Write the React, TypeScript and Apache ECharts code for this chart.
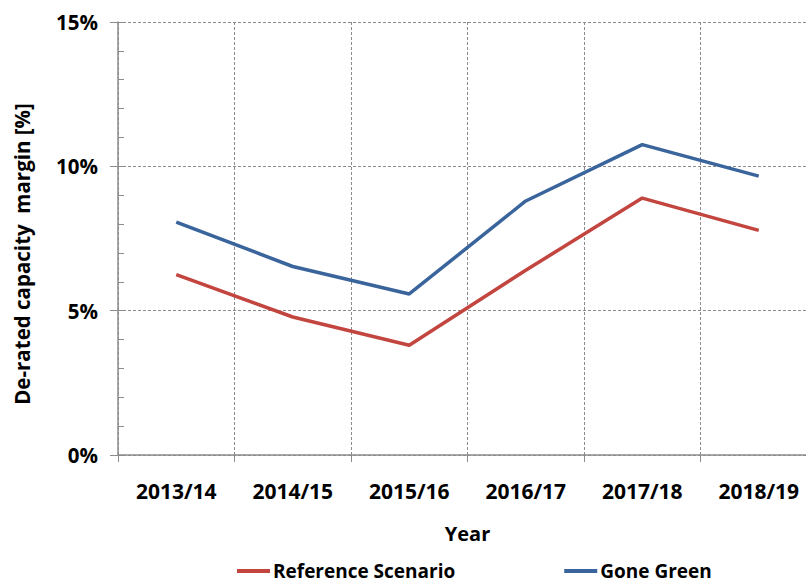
import React, { useEffect, useRef } from "react";
import * as echarts from "echarts";

// Financial years on the category axis
const years = ["2013/14", "2014/15", "2015/16", "2016/17", "2017/18", "2018/19"];

// De-rated capacity margin, in percent
const referenceScenario = [6.25, 4.78, 3.8, 6.4, 8.9, 7.78];
const goneGreen = [8.07, 6.53, 5.58, 8.8, 10.75, 9.66];

const yTicks = [0, 5, 10, 15];

const FONT = "'Open Sans', 'Liberation Sans', sans-serif";
const RED = "#C3453F";
const BLUE = "#3A649C";
const AXIS_GREY = "#8C8C8C";
const GRID_GREY = "#8A8A8A";

export default function App() {
  const ref = useRef<HTMLDivElement>(null);

  useEffect(() => {
    document.body.style.margin = "0";
    if (!ref.current) return;
    const chart = echarts.init(ref.current, null, { renderer: "svg" });
    const yMin = yTicks[0];
    const yMax = yTicks[yTicks.length - 1];

    chart.setOption({
      animation: false,
      backgroundColor: "#ffffff",
      textStyle: { fontFamily: FONT },
      // the plot runs past the right edge of the visible frame
      grid: { left: 118, top: 22, width: 699, height: 433, containLabel: false },
      legend: {
        left: 237,
        top: 561,
        padding: 0,
        icon: "rect",
        itemWidth: 33,
        itemHeight: 4,
        itemGap: 109,
        itemStyle: { borderWidth: 0 },
        textStyle: {
          fontFamily: FONT,
          fontWeight: "bold",
          fontSize: 19,
          lineHeight: 20,
          color: "#000",
          padding: [0, 0, 0, -2],
        },
        data: ["Reference Scenario", "Gone Green"],
      },
      xAxis: {
        type: "category",
        data: years,
        boundaryGap: true,
        axisLine: { lineStyle: { color: AXIS_GREY, width: 1.5 } },
        axisTick: { show: true, alignWithLabel: false, length: 7, lineStyle: { color: AXIS_GREY, width: 1 } },
        axisLabel: { margin: 25, fontFamily: FONT, fontWeight: "bold", fontSize: 21, color: "#000", interval: 0 },
        splitLine: { show: true, lineStyle: { color: GRID_GREY, type: [3, 2], width: 1 } },
        name: "Year",
        nameLocation: "middle",
        nameGap: 68,
        nameTextStyle: { fontFamily: FONT, fontWeight: "bold", fontSize: 20, color: "#000" },
      },
      yAxis: [
        {
          type: "value",
          min: yMin,
          max: yMax,
          interval: 5,
          axisLine: { show: true, lineStyle: { color: AXIS_GREY, width: 1.5 } },
          axisTick: { show: true, length: 8, lineStyle: { color: AXIS_GREY, width: 1 } },
          axisLabel: {
            margin: 20,
            fontFamily: FONT,
            fontWeight: "bold",
            fontSize: 20.5,
            color: "#000",
            formatter: (v: number) => `${v}%`,
          },
          splitLine: { show: true, lineStyle: { color: GRID_GREY, type: [3, 2], width: 1 } },
        },
        {
          // minor ticks every 1%, pointing into the plot
          type: "value",
          min: yMin,
          max: yMax,
          interval: 1,
          position: "left",
          axisLine: { show: false },
          axisTick: { show: true, inside: true, length: 6, lineStyle: { color: AXIS_GREY, width: 1 } },
          axisLabel: { show: false },
          splitLine: { show: false },
        },
      ],
      graphic: [
        {
          type: "text",
          x: 22,
          y: 254,
          rotation: Math.PI / 2,
          style: {
            text: "De-rated capacity  margin [%]",
            fontFamily: FONT,
            fontWeight: "bold",
            fontSize: 20.5,
            fill: "#000",
            textAlign: "center",
            textVerticalAlign: "middle",
          },
        },
      ],
      series: [
        {
          name: "Reference Scenario",
          type: "line",
          data: referenceScenario,
          yAxisIndex: 0,
          symbol: "none",
          lineStyle: { color: RED, width: 3.5 },
          itemStyle: { color: RED },
        },
        {
          name: "Gone Green",
          type: "line",
          data: goneGreen,
          yAxisIndex: 0,
          symbol: "none",
          lineStyle: { color: BLUE, width: 3.5 },
          itemStyle: { color: BLUE },
        },
      ],
    });

    return () => chart.dispose();
  }, []);

  return (
    <div style={{ width: 806, height: 584, overflow: "hidden" }}>
      <div ref={ref} style={{ width: 820, height: 584 }} />
    </div>
  );
}
